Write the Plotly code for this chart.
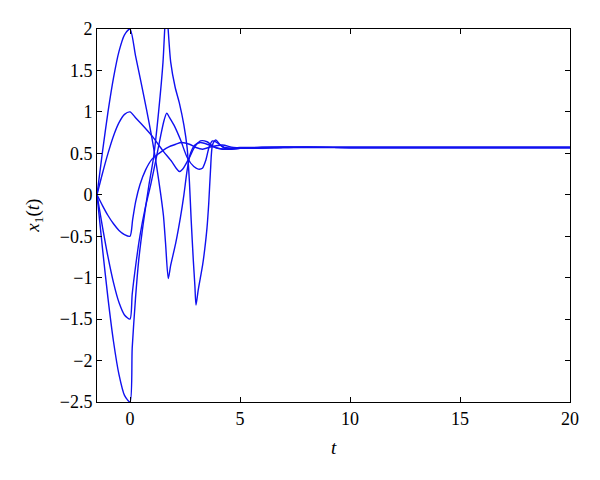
import plotly.graph_objects as go

# ---- data ----
t_a = [-1.5, -1.25, -1.0, -0.75, -0.5, -0.25, 0.0, 0.25, 0.5, 0.75, 1.0, 1.2, 1.4, 1.52, 1.62, 1.74,
       1.85, 2.08, 2.3, 2.45, 2.6, 2.75, 2.95, 3.2, 3.6, 4.0, 4.5, 5.0, 6.0, 8.0, 10.0, 20.0]
x_a = [0.0, 0.52, 1.0, 1.41, 1.73, 1.93, 2.0, 1.68, 1.36, 1.03, 0.68, 0.36, 0.0, -0.25, -0.6, -1.01,
       -0.85, -0.58, -0.26, 0.0, 0.3, 0.5, 0.6, 0.63, 0.6, 0.56, 0.55, 0.56, 0.57, 0.575, 0.57, 0.57]

t_b = [-1.5, -1.25, -1.0, -0.75, -0.5, -0.25, 0.0, 0.1, 0.25, 0.4, 0.6, 0.85, 1.07, 1.3, 1.5, 1.6, 1.66,
       1.72, 1.85, 2.05, 2.25, 2.45, 2.6, 2.7, 2.78, 2.88, 2.95, 3.0, 3.1, 3.2, 3.3, 3.4, 3.5, 3.58, 3.66,
       3.75, 3.9, 4.1, 4.4, 5.0, 6.0, 8.0, 10.0, 20.0]
x_b = [0.0, -0.65, -1.25, -1.77, -2.17, -2.42, -2.5, -1.85, -1.25, -0.78, -0.35, 0.1, 0.45, 1.0, 1.6, 2.1, 2.25,
       2.05, 1.6, 1.3, 1.1, 0.84, 0.56, 0.16, -0.3, -0.8, -1.1, -1.33, -1.15, -1.0, -0.85, -0.65, -0.4, -0.1, 0.3,
       0.6, 0.66, 0.6, 0.55, 0.56, 0.57, 0.57, 0.57, 0.57]

t_c = [-1.5, -1.25, -1.0, -0.75, -0.5, -0.25, 0.0, 0.25, 0.5, 1.0, 1.5, 1.9, 2.1, 2.25, 2.4, 2.7, 2.95,
       3.2, 3.5, 3.8, 4.2, 5.0, 6.0, 8.0, 10.0, 20.0]
x_c = [0.0, 0.26, 0.5, 0.71, 0.87, 0.97, 1.0, 0.93, 0.86, 0.71, 0.53, 0.4, 0.32, 0.28, 0.31, 0.45, 0.58,
       0.65, 0.64, 0.58, 0.55, 0.57, 0.57, 0.575, 0.57, 0.57]

t_d = [-1.5, -1.25, -1.0, -0.75, -0.5, -0.25, 0.0, 0.1, 0.26, 0.45, 0.7, 0.94, 1.2, 1.4, 1.55, 1.67, 1.8,
       2.0, 2.3, 2.6, 2.9, 3.1, 3.29, 3.45, 3.6, 3.75, 3.95, 4.3, 5.0, 6.0, 8.0, 10.0, 20.0]
x_d = [0.0, -0.39, -0.75, -1.06, -1.3, -1.45, -1.5, -1.2, -0.85, -0.5, -0.15, 0.12, 0.45, 0.72, 0.9, 0.985, 0.93,
       0.84, 0.66, 0.45, 0.34, 0.31, 0.32, 0.42, 0.58, 0.65, 0.63, 0.57, 0.56, 0.57, 0.575, 0.57, 0.57]

t_e = [-1.5, -1.25, -1.0, -0.75, -0.5, -0.25, 0.0, 0.12, 0.26, 0.45, 0.71, 1.0, 1.32, 1.7, 2.08, 2.35, 2.7,
       3.0, 3.3, 3.7, 4.2, 4.7, 5.5, 7.0, 8.0, 10.0, 20.0]
x_e = [0.0, -0.13, -0.25, -0.35, -0.43, -0.48, -0.5, -0.3, -0.08, 0.12, 0.3, 0.43, 0.5, 0.57, 0.61, 0.63, 0.61,
       0.57, 0.55, 0.58, 0.6, 0.57, 0.56, 0.57, 0.575, 0.57, 0.57]

x_ticks = [0, 5, 10, 15, 20]
y_ticks = [-2.5, -2, -1.5, -1, -0.5, 0, 0.5, 1, 1.5, 2]

series = [(t_a, x_a), (t_b, x_b), (t_c, x_c), (t_d, x_d), (t_e, x_e)]

fig = go.Figure()
for tt, xx in series:
    fig.add_trace(go.Scatter(x=tt, y=xx, mode="lines",
                             line=dict(color="#1010f0", width=1.4, shape="spline", smoothing=0.7),
                             showlegend=False, hoverinfo="skip"))

font_family = "Liberation Serif"
axis_common = dict(showline=True, linecolor="black", linewidth=1, mirror="ticks",
                   ticks="inside", ticklen=5, tickcolor="black", showgrid=False, zeroline=False,
                   tickfont=dict(family=font_family, size=18, color="black"))

fig.update_layout(
    width=600, height=480,
    margin=dict(l=89, r=38, t=21, b=86),
    paper_bgcolor="white", plot_bgcolor="white",
    xaxis=dict(range=[-1.5, 20], tickvals=x_ticks, **axis_common),
    yaxis=dict(range=[-2.5, 2], tickvals=y_ticks, **axis_common),
    annotations=[
        dict(text="<i>t</i>", xref="paper", yref="paper", x=0.5, y=-0.123,
             showarrow=False, xanchor="center", yanchor="middle",
             font=dict(family=font_family, size=19, color="black")),
        dict(text="<i>x</i><sub>1</sub>(<i>t</i>)", xref="paper", yref="paper", x=-0.135, y=0.5,
             showarrow=False, xanchor="center", yanchor="middle", textangle=-90,
             font=dict(family=font_family, size=19, color="black")),
    ],
)

fig.write_html("out.html")
